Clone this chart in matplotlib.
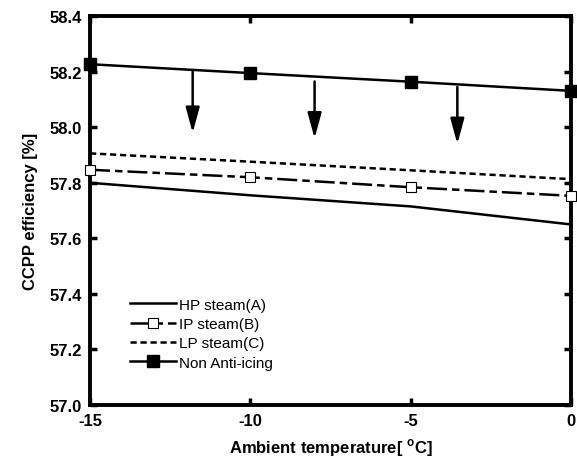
import matplotlib
matplotlib.use("Agg")
import matplotlib.pyplot as plt

plt.rcParams['font.family'] = ['Liberation Sans', 'DejaVu Sans']
plt.rcParams['mathtext.fontset'] = 'custom'
plt.rcParams['mathtext.rm'] = 'Liberation Sans'
plt.rcParams['mathtext.bf'] = 'Liberation Sans:bold'
plt.rcParams['axes.unicode_minus'] = False

# data
temps = [-15, -10, -5, 0]
hp_steam = [57.80, 57.755, 57.715, 57.65]
ip_steam = [57.847, 57.82, 57.784, 57.753]
lp_steam = [57.906, 57.876, 57.845, 57.813]
non_anti_icing = [58.227, 58.195, 58.164, 58.131]

# arrows: x, start y, end y
arrow_x = [-11.8, -8.0, -3.55]
arrow_y0 = [58.2, 58.165, 58.145]
arrow_y1 = [57.98, 57.96, 57.94]

fig, ax = plt.subplots(figsize=(5.77, 4.64), dpi=100)
fig.subplots_adjust(left=0.156, right=0.99, top=0.963, bottom=0.125)

ax.plot(temps, hp_steam, color='black', lw=1.8, label='HP steam(A)')
ax.plot(temps, ip_steam, color='black', lw=1.8, dashes=(8, 2, 3, 2),
        marker='s', markersize=7, markerfacecolor='white', markeredgewidth=0.8,
        label='IP steam(B)', clip_on=False, zorder=3)
ax.plot(temps, lp_steam, color='black', lw=1.8, dashes=(2.5, 1.5), label='LP steam(C)')
ax.plot(temps, non_anti_icing, color='black', lw=1.8, marker='s', markersize=9,
        label='Non Anti-icing', clip_on=False, zorder=4)

for x, y0, y1 in zip(arrow_x, arrow_y0, arrow_y1):
    ax.annotate('', xy=(x, y1), xytext=(x, y0),
                arrowprops=dict(arrowstyle='-|>,head_length=1.1,head_width=0.3',
                                mutation_scale=14, color='black', lw=1.8,
                                shrinkA=0, shrinkB=0))

ax.set_xlim(-15, 0)
ax.set_ylim(57.0, 58.4)
ax.set_xticks([-15, -10, -5, 0])
ax.set_yticks([57.0, 57.2, 57.4, 57.6, 57.8, 58.0, 58.2, 58.4])
ax.set_yticklabels(['%.1f' % v for v in ax.get_yticks()])
ax.tick_params(direction='in', length=5, width=2.5, top=True, right=True,
               labelsize=12, pad=6)
for lab in ax.get_xticklabels() + ax.get_yticklabels():
    lab.set_fontweight('bold')
for sp in ax.spines.values():
    sp.set_linewidth(2.8)

ax.set_xlabel(r'Ambient temperature[ $^{\mathbf{o}}$C]', fontsize=12,
              fontweight='bold', labelpad=6)
ax.set_ylabel('CCPP efficiency [%]', fontsize=12, fontweight='bold', labelpad=8)

ax.legend(loc='lower left', bbox_to_anchor=(0.07, 0.075), frameon=False,
          fontsize=11, handlelength=3.0, handletextpad=0.2, labelspacing=0.35,
          borderaxespad=0)

fig.savefig('out.png', dpi=100)
